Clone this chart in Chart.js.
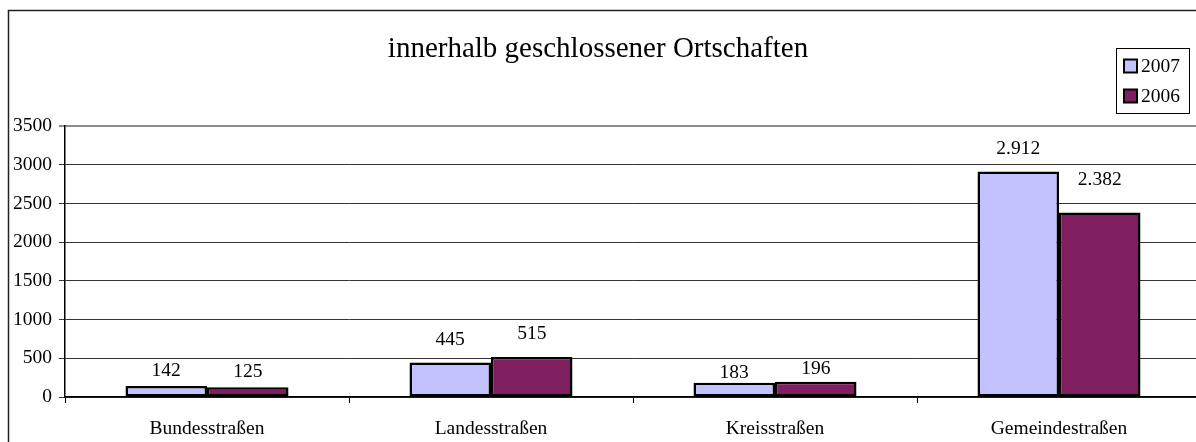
<!DOCTYPE html>
<html lang="de">
<head>
<meta charset="utf-8">
<title>innerhalb geschlossener Ortschaften</title>
<script src="https://cdn.jsdelivr.net/npm/chart.js@4.4.1/dist/chart.umd.min.js"></script>
<style>
  html, body { margin: 0; padding: 0; background: #fff; overflow: hidden; }
  #wrap { position: absolute; left: -14px; top: 0; width: 1224px; height: 442px; }
</style>
</head>
<body>
<div id="wrap"><canvas id="chart" width="1224" height="442"></canvas></div>
<script>
// Road categories and yearly counts
const categories = ['Bundesstraßen', 'Landesstraßen', 'Kreisstraßen', 'Gemeindestraßen'];
const values2007 = [142, 445, 183, 2912];
const values2006 = [125, 515, 196, 2382];
const seriesNames = ['2007', '2006'];
const yMin = 0;
const yMax = 3500;
const yStep = 500;

// Styling
const FONT = "'Liberation Serif', 'Times New Roman', serif";
const colors = ['#c2c2ff', '#801f5f'];
// vertical gap between each bar top and the centre of its value label
const labelLift = [[15, 23, 10, 23], [15, 23, 13, 33]];

function deNumber(v) {
  return String(v).replace(/\B(?=(\d{3})+(?!\d))/g, '.');
}

// Outer frame around the whole chart
const framePlugin = {
  id: 'frame',
  beforeDraw(chart) {
    const ctx = chart.ctx;
    ctx.save();
    ctx.strokeStyle = '#222';
    ctx.lineWidth = 1.5;
    ctx.strokeRect(22.5, 10.5, chart.width + 20, chart.height + 20);
    ctx.restore();
  }
};

// Value labels above each bar
const valueLabelPlugin = {
  id: 'valueLabels',
  afterDatasetsDraw(chart) {
    const ctx = chart.ctx;
    ctx.save();
    ctx.font = '19.5px ' + FONT;
    ctx.fillStyle = '#000';
    ctx.textAlign = 'center';
    ctx.textBaseline = 'middle';
    chart.data.datasets.forEach((ds, di) => {
      const meta = chart.getDatasetMeta(di);
      meta.data.forEach((bar, i) => {
        ctx.fillText(deNumber(ds.data[i]), bar.x, bar.y - labelLift[di][i]);
      });
    });
    ctx.restore();
  }
};

// Boxed legend in the upper right corner
const boxLegendPlugin = {
  id: 'boxLegend',
  afterDraw(chart) {
    const ctx = chart.ctx;
    const left = chart.chartArea.right - 85, top = 48, w = 73, h = 65;
    ctx.save();
    ctx.fillStyle = '#fff';
    ctx.fillRect(left, top, w, h);
    ctx.strokeStyle = '#000';
    ctx.lineWidth = 1;
    ctx.strokeRect(left + 0.5, top + 0.5, w, h);
    ctx.font = '19.5px ' + FONT;
    ctx.textBaseline = 'middle';
    ctx.textAlign = 'left';
    chart.data.datasets.forEach((ds, i) => {
      const cy = top + 18 + i * 30;
      ctx.fillStyle = ds.backgroundColor;
      ctx.fillRect(left + 8, cy - 6.5, 13, 13);
      ctx.lineWidth = 2;
      ctx.strokeStyle = '#000';
      ctx.strokeRect(left + 8, cy - 6.5, 13, 13);
      ctx.fillStyle = '#000';
      ctx.fillText(ds.label, left + 25, cy + 1);
    });
    ctx.restore();
  }
};

new Chart(document.getElementById('chart'), {
  type: 'bar',
  data: {
    labels: categories,
    datasets: [
      { label: seriesNames[0], data: values2007, backgroundColor: colors[0] },
      { label: seriesNames[1], data: values2006, backgroundColor: colors[1] }
    ]
  },
  options: {
    responsive: false,
    animation: false,
    devicePixelRatio: 1,
    layout: { padding: { left: 9, right: 9, top: 0, bottom: 0 } },
    datasets: {
      bar: {
        borderColor: '#000',
        borderWidth: 2.5,
        borderSkipped: false,
        categoryPercentage: 0.574,
        barPercentage: 1.0
      }
    },
    plugins: {
      legend: { display: false },
      tooltip: { enabled: false },
      title: {
        display: true,
        text: 'innerhalb geschlossener Ortschaften',
        color: '#000',
        font: { family: FONT, size: 29, weight: 'normal', lineHeight: 1.2 },
        padding: { top: 31.6, bottom: 59.6 }
      }
    },
    scales: {
      x: {
        offset: true,
        afterFit(scale) { scale.height = 45; },
        grid: {
          display: true,
          offset: true,
          drawOnChartArea: false,
          drawTicks: true,
          tickLength: 6,
          color: '#000',
          lineWidth: 1
        },
        border: { display: true, color: '#000', width: 1.5 },
        ticks: {
          color: '#000',
          padding: 14,
          font: { family: FONT, size: 19.5 }
        }
      },
      y: {
        min: yMin,
        max: yMax,
        afterFit(scale) { scale.width = 70; },
        grid: {
          drawTicks: true,
          tickLength: 6,
          color: (c) => (c.tick && c.tick.value === yMax ? '#8c8c8c' : '#333'),
          lineWidth: (c) => (c.tick && c.tick.value === yMax ? 2 : 1)
        },
        border: { display: true, color: '#000', width: 1.5 },
        ticks: {
          stepSize: yStep,
          color: '#000',
          padding: 7,
          font: { family: FONT, size: 19.5 },
          callback: (v) => String(v)
        }
      }
    }
  },
  plugins: [framePlugin, valueLabelPlugin, boxLegendPlugin]
});
</script>
</body>
</html>
